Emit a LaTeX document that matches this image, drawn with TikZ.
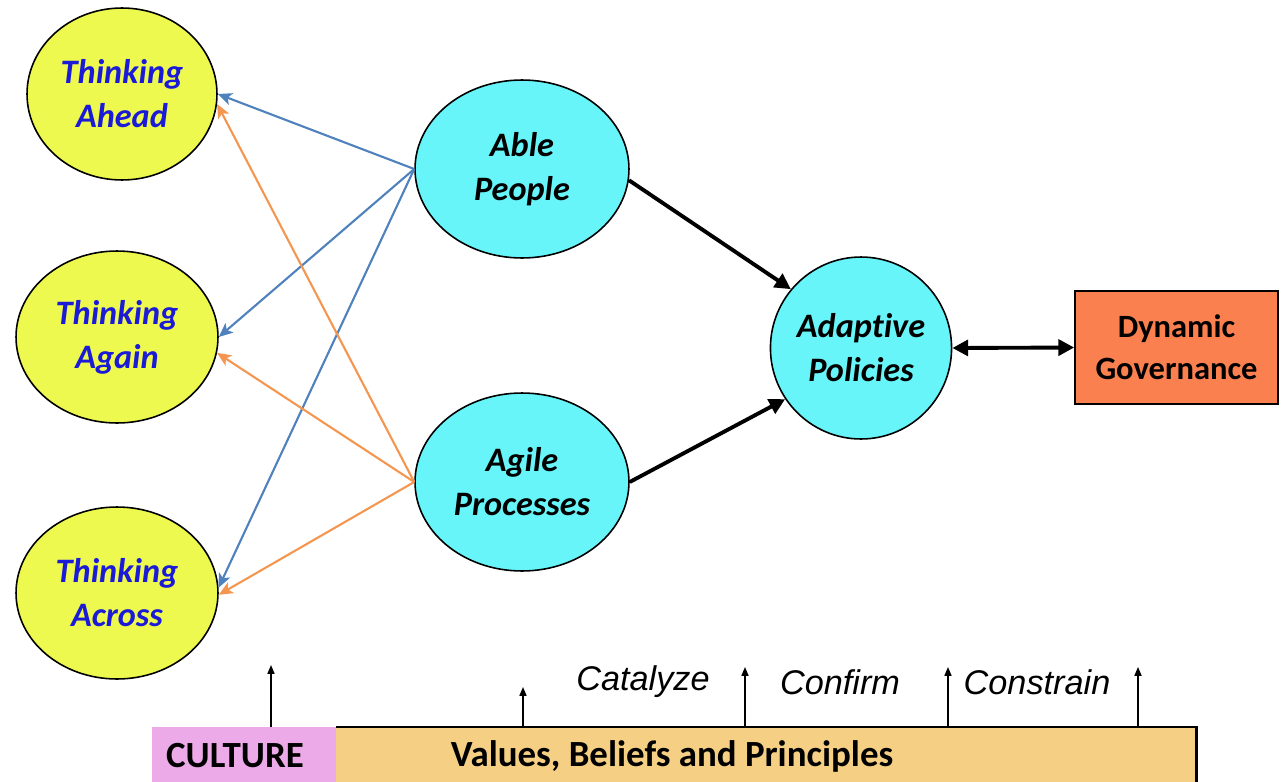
\documentclass[tikz,border=0pt]{standalone}
\usepackage{fontspec}
\setmainfont{Carlito}[Ligatures=NoCommon]
\newfontfamily\labelfont{Liberation Sans}
\usetikzlibrary{shapes.geometric,arrows.meta}

\definecolor{thinkfill}{RGB}{238,249,80}
\definecolor{thinktext}{RGB}{26,26,215}
\definecolor{corefill}{RGB}{104,245,250}
\definecolor{govfill}{RGB}{250,128,80}
\definecolor{culturefill}{RGB}{236,170,232}
\definecolor{valuesfill}{RGB}{245,207,132}
\definecolor{bluelink}{RGB}{79,129,189}
\definecolor{orangelink}{RGB}{245,150,80}

\tikzset{
  base/.style={font=\fontsize{19.5}{25}\selectfont, align=center, inner sep=0pt},
  think/.style={base, ellipse, draw=black, line width=0.9pt, fill=thinkfill,
    text=thinktext, font=\fontsize{19.5}{25}\selectfont\bfseries\itshape},
  core/.style={base, ellipse, draw=black, line width=0.9pt, fill=corefill,
    font=\fontsize{19.5}{25}\selectfont\bfseries\itshape},
  bluearrow/.style={draw=bluelink, line width=1.2pt, -{Stealth[length=8pt,width=7pt,inset=2pt]}},
  orangearrow/.style={draw=orangelink, line width=1.2pt, -{Stealth[length=8pt,width=7pt,inset=2pt]}},
  bigarrow/.style={draw=black, line width=2.2pt, -{Triangle[length=9pt,width=9pt]}},
  uparrow/.style={draw=black, line width=0.8pt, -{Triangle[length=5pt,width=4pt]}},
  cue/.style={font=\labelfont\itshape\fontsize{19.5}{25}\selectfont, inner sep=0pt},
  bartext/.style={font=\fontsize{21}{25}\selectfont\bfseries, inner sep=0pt}
}

\begin{document}
\begin{tikzpicture}[x=0.02cm, y=-0.02cm]
  \useasboundingbox (0,0) rectangle (1281,781);

  % the three modes of thinking
  \node[think, minimum width=3.8cm, minimum height=3.44cm] (ahead) at (122,94) {Thinking\\Ahead};
  \node[think, minimum width=4.04cm, minimum height=3.44cm] (again) at (117,337) {Thinking\\Again};
  \node[think, minimum width=4.04cm, minimum height=3.44cm] (across) at (117,593) {Thinking\\Across};

  % capabilities
  \node[core, minimum width=4.28cm, minimum height=3.56cm] (people) at (522,169) {Able\\People};
  \node[core, minimum width=4.28cm, minimum height=3.56cm] (processes) at (522,482) {Agile\\Processes};
  \node[core, minimum width=3.56cm, minimum height=3.64cm] (policies) at (861,348) {Adaptive\\Policies};

  % outcome
  \node[base, draw=black, line width=0.9pt, fill=govfill, minimum width=4.06cm, minimum height=2.26cm,
        font=\fontsize{18.5}{24}\selectfont\bfseries] (gov) at (1176.5,347.5) {Dynamic\\Governance};

  % links from capabilities to thinking
  \draw[bluearrow] (people.west) -- (ahead.east);
  \draw[bluearrow] (people.west) -- (again.east);
  \draw[bluearrow] (people.west) -- (across.3);
  \draw[orangearrow] (processes.west) -- (ahead.-6);
  \draw[orangearrow] (processes.west) -- (again.-9);
  \draw[orangearrow] (processes.west) -- (across.-1);

  % capabilities feed policies
  \draw[bigarrow] (people.-6) -- (policies.140);
  \draw[bigarrow] (processes.east) -- (policies.214);
  \draw[line width=2.2pt, {Triangle[length=9pt,width=9pt]}-{Triangle[length=9pt,width=9pt]}]
    (policies.east) -- (gov.west);

  % cultural foundation
  \node[base, fill=culturefill, minimum width=3.68cm, minimum height=1.12cm, anchor=north west] (culture) at (152,727) {};
  \node[base, fill=valuesfill, minimum width=17.2cm, minimum height=1.12cm, anchor=north west] (values) at (336,727) {};
  \draw[black, line width=1.2pt] (values.north west) -- (values.north east) -- (values.south east);
  \node[bartext] (culturetext) at (235,756) {CULTURE};
  \node[bartext] (valuestext) at (672,756) {Values, Beliefs and Principles};

  % upward influences
  \coordinate (b1) at (271,727); \coordinate (t1) at (271,665);
  \coordinate (b2) at (523,727); \coordinate (t2) at (523,687);
  \coordinate (b3) at (745,727); \coordinate (t3) at (745,667);
  \coordinate (b4) at (948,727); \coordinate (t4) at (948,667);
  \coordinate (b5) at (1138,727); \coordinate (t5) at (1138,667);
  \foreach \i in {1,...,5} { \draw[uparrow] (b\i) -- (t\i); }

  \node[cue] (catalyze) at (643,682) {Catalyze};
  \node[cue] (confirm) at (840,682) {Confirm};
  \node[cue] (constrain) at (1037,682) {Constrain};
\end{tikzpicture}
\end{document}
